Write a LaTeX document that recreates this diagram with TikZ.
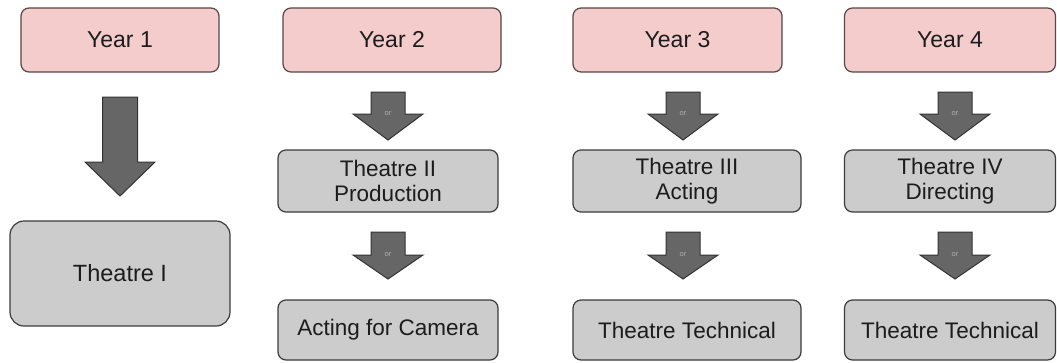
\documentclass[tikz,border=0pt]{standalone}
\usepackage{fontspec}
\setmainfont{Liberation Sans}
\definecolor{pinkfill}{HTML}{F4CCCC}
\definecolor{pinkedge}{HTML}{5A4646}
\definecolor{grayfill}{HTML}{CCCCCC}
\definecolor{grayedge}{HTML}{3C3C3C}
\definecolor{arrowfill}{HTML}{666666}
\definecolor{arrowedge}{HTML}{333333}
\definecolor{textc}{HTML}{1C1C1C}
\definecolor{ortextc}{HTML}{B0B0B0}
\newcommand\myblockarrow[7]{%
  \draw[blockarrow] (#1-#5,#2) -- (#1+#5,#2) -- (#1+#5,#3) -- (#1+#6,#3) -- (#1,#4)
    -- (#1-#6,#3) -- (#1-#5,#3) -- cycle;
  \node[ortext] (#7) at (#1,#3) {or};%
}
\begin{document}
\begin{tikzpicture}[x=1pt,y=-1pt,
  yearbox/.style={draw=pinkedge, fill=pinkfill, rounded corners=8pt, line width=1.2pt,
    text=textc, font=\fontsize{23}{25}\selectfont, inner sep=0pt, align=center,
    minimum height=64pt},
  coursebox/.style={draw=grayedge, fill=grayfill, rounded corners=8pt, line width=1.2pt,
    text=textc, font=\fontsize{22.5}{25}\selectfont, inner sep=0pt, align=center},
  blockarrow/.style={draw=arrowedge, fill=arrowfill, line width=1pt, line join=miter},
  ortext/.style={font=\fontsize{7.5}{8}\selectfont, text=ortextc, inner sep=0pt}
]
\useasboundingbox (0,0) rectangle (1057,362);
\fill[white] (0,0) rectangle (1057,362);

% Year headers
\node[yearbox, minimum width=198pt] (y1) at (120,40) {Year 1};
\node[yearbox, minimum width=218pt] (y2) at (392,40) {Year 2};
\node[yearbox, minimum width=209pt] (y3) at (677.5,40) {Year 3};
\node[yearbox, minimum width=211pt] (y4) at (950,40) {Year 4};

% Year 1
\draw[blockarrow] (102.5,97) -- (137.5,97) -- (137.5,162) -- (155,162) -- (120,196)
  -- (85,162) -- (102.5,162) -- cycle;
\node[coursebox, rounded corners=14pt, minimum width=220pt, minimum height=105pt,
  font=\fontsize{23.5}{25}\selectfont] (t1) at (120,273.5) {Theatre I};

% middle courses
\node[coursebox, minimum width=220pt, minimum height=62pt] (t2) at (388,181) {Theatre II\\Production};
\node[coursebox, minimum width=228pt, minimum height=62pt] (t3) at (687,181) {Theatre III\\Acting};
\node[coursebox, minimum width=211pt, minimum height=62pt] (t4) at (950,181) {Theatre IV\\Directing};

% bottom courses
\node[coursebox, minimum width=220pt, minimum height=60pt] (b2) at (388,330) {Acting for Camera};
\node[coursebox, minimum width=228pt, minimum height=60pt] (b3) at (687,330) {Theatre Technical};
\node[coursebox, minimum width=211pt, minimum height=60pt] (b4) at (950,330) {Theatre Technical};

% small "or" arrows
\myblockarrow{388}{92}{114}{140}{17}{35}{or2a}
\myblockarrow{683}{92}{114}{140}{17}{35}{or3a}
\myblockarrow{955}{92}{114}{140}{17}{35}{or4a}
\myblockarrow{388}{232}{255}{279}{17}{35}{or2b}
\myblockarrow{683}{232}{255}{279}{17}{35}{or3b}
\myblockarrow{955}{232}{255}{279}{17}{35}{or4b}
\end{tikzpicture}
\end{document}
